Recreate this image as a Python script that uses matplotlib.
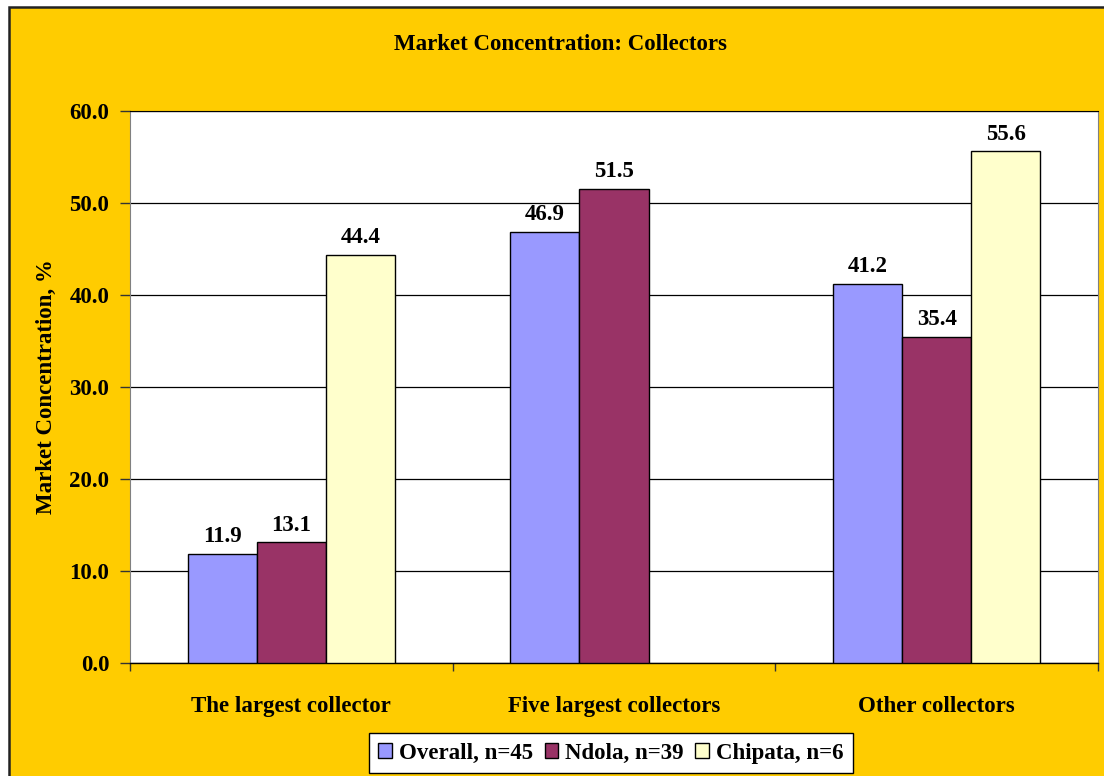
import matplotlib
matplotlib.use("Agg")
import matplotlib.pyplot as plt
import matplotlib.patches as patches
import numpy as np

# data
categories = ["The largest collector", "Five largest collectors", "Other collectors"]
series_names = ["Overall, n=45", "Ndola, n=39", "Chipata, n=6"]
overall = [11.9, 46.9, 41.2]
ndola = [13.1, 51.5, 35.4]
chipata = [44.4, np.nan, 55.6]
y_ticks = [0, 10, 20, 30, 40, 50, 60]

COLORS = ["#9999FF", "#993366", "#FFFFCC"]
BG = "#FFCC00"
FONT = "Liberation Serif"
FS = 16.5

plt.rcParams["font.family"] = [FONT, "DejaVu Serif"]
plt.rcParams["font.weight"] = "bold"

fig = plt.figure(figsize=(11.04, 7.76), dpi=100)
fig.patch.set_facecolor("white")

# chart area frame (yellow with dark border on top/left)
frame = patches.Rectangle((8.5 / 1104, -0.02), 1.05, (776 - 7.5) / 776 + 0.02,
                          transform=fig.transFigure, facecolor=BG,
                          edgecolor="#222222", linewidth=1.8, zorder=-5)
fig.patches.append(frame)

ax = fig.add_axes([130 / 1104, (776 - 663) / 776, (1098 - 130) / 1104, (663 - 111) / 776])
ax.set_zorder(2)
ax.set_facecolor("white")

x = np.arange(len(categories))
w = 0.214
all_series = [overall, ndola, chipata]
for i, (vals, name, col) in enumerate(zip(all_series, series_names, COLORS)):
    pos = x + (i - 1) * w
    v = np.array(vals, dtype=float)
    ax.bar(pos, v, width=w, color=col, edgecolor="black",
           linewidth=1.0, label=name, zorder=3)
    for xp, val in zip(pos, v):
        if np.isnan(val):
            continue
        ax.annotate(f"{val:.1f}", (xp, val), xytext=(0, 5), textcoords="offset points",
                    ha="center", va="bottom", fontsize=FS, fontweight="bold")

ax.set_ylim(0, 60)
ax.set_xlim(-0.5, 2.5)
ax.set_yticks(y_ticks)
ax.set_yticklabels([f"{t:.1f}" for t in y_ticks], fontsize=FS, fontweight="bold")
ax.yaxis.grid(True, color="black", linewidth=0.9, zorder=1)
ax.set_axisbelow(True)
ax.tick_params(axis="y", direction="out", length=7, width=1, color="#333333", pad=8)

ax.set_xticks(x)
ax.set_xticklabels(categories, fontsize=FS, fontweight="bold")
ax.set_xticks([-0.5, 0.5, 1.5, 2.5], minor=True)
ax.tick_params(axis="x", which="major", length=0, pad=24)
ax.tick_params(axis="x", which="minor", direction="out", length=6, width=1, color="#333333")

for s in ["left", "right"]:
    ax.spines[s].set_color("#808080")
ax.spines["top"].set_color("black")
ax.spines["bottom"].set_color("black")
ax.spines["bottom"].set_linewidth(1.0)

ax.set_ylabel("Market Concentration, %", fontsize=FS, fontweight="bold", labelpad=9)

fig.text(0.508, (776 - 44) / 776, "Market Concentration: Collectors", ha="center", va="center",
         fontsize=FS, fontweight="bold")

leg = fig.legend(loc="center", bbox_to_anchor=(611 / 1104, (776 - 753) / 776), ncol=3,
                 fontsize=FS, frameon=True, fancybox=False, edgecolor="black",
                 handlelength=0.6, handleheight=0.6, handletextpad=0.3, columnspacing=0.5,
                 borderpad=0.4)
leg.get_frame().set_linewidth(1.0)
leg.get_frame().set_facecolor("white")
leg.get_frame().set_alpha(1)

fig.savefig("out.png", dpi=100, facecolor=fig.get_facecolor())
